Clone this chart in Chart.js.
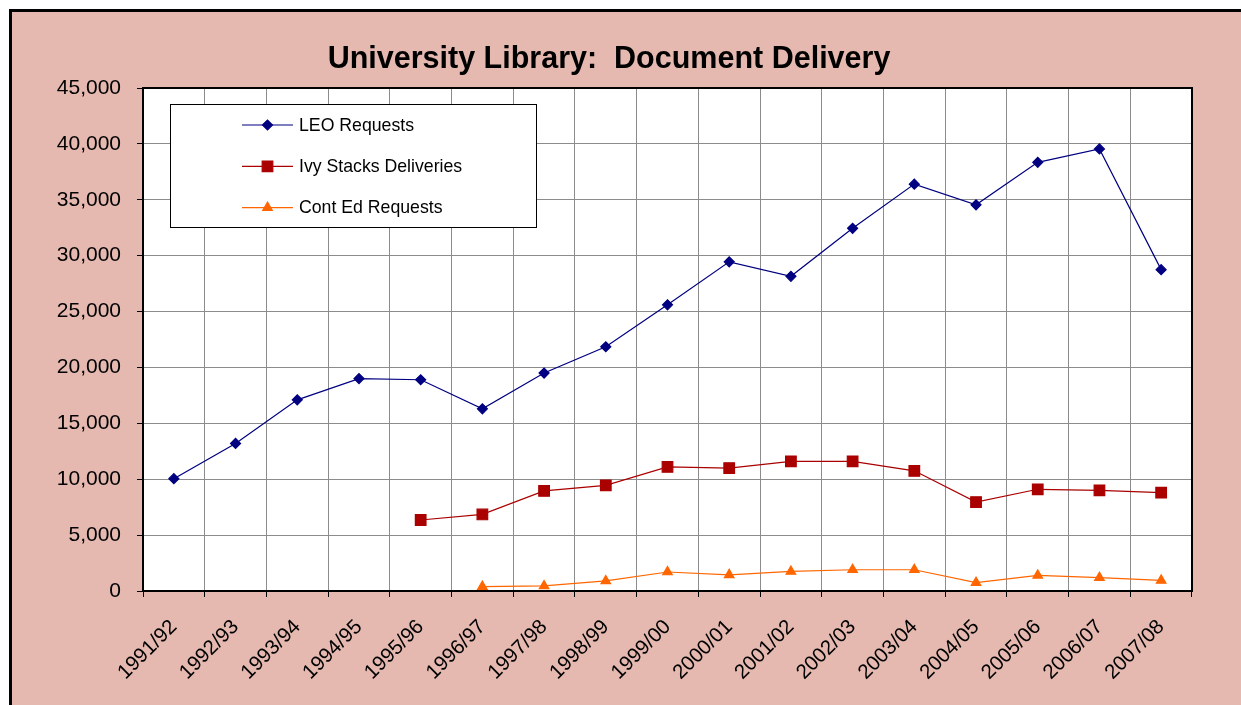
<!DOCTYPE html>
<html>
<head>
<meta charset="utf-8">
<title>University Library: Document Delivery</title>
<script src="https://cdn.jsdelivr.net/npm/chart.js@4.4.1/dist/chart.umd.min.js"></script>
<style>
    html, body { margin: 0; padding: 0; background: #fff; }
    canvas { display: block; }
</style>
</head>
<body>
<canvas id="deliveryChart" width="1241" height="705"></canvas>
<script>

// =====================
// DATA
// =====================

const YEARS = [
    "1991/92", "1992/93", "1993/94", "1994/95", "1995/96", "1996/97",
    "1997/98", "1998/99", "1999/00", "2000/01", "2001/02", "2002/03",
    "2003/04", "2004/05", "2005/06", "2006/07", "2007/08"
];

const LEO_REQUESTS = [
    10050, 13200, 17100, 19000, 18900, 16300, 19500, 21850, 25600,
    29450, 28150, 32450, 36400, 34550, 38350, 39550, 28750
];

const IVY_DELIVERIES = [
    null, null, null, null, 6350, 6850, 8950, 9450, 11100,
    11000, 11600, 11600, 10750, 7950, 9100, 9000, 8800
];

const CONT_ED_REQUESTS = [
    null, null, null, null, null, 400, 450, 900, 1700,
    1450, 1750, 1900, 1900, 750, 1400, 1200, 950
];

const Y_TICKS = [0, 5000, 10000, 15000, 20000, 25000, 30000, 35000, 40000, 45000];

const FONT = "'Liberation Sans', Arial, sans-serif";
const PINK = '#E5B9B0';


// =====================
// PLUGINS
// =====================

// pink chart background, outer frame, white plot area
const backgroundPlugin = {
    id: 'background',
    beforeDraw(chart) {
        const ctx = chart.ctx;
        const a = chart.chartArea;
        ctx.save();
        ctx.fillStyle = '#fff';
        ctx.fillRect(0, 0, chart.width, chart.height);
        ctx.fillStyle = PINK;
        ctx.fillRect(9, 9, chart.width, chart.height);
        ctx.fillStyle = '#000';
        ctx.fillRect(9, 9, 3, chart.height);
        ctx.fillRect(9, 9, chart.width, 3);
        ctx.fillStyle = '#fff';
        ctx.fillRect(a.left, a.top, a.right - a.left, a.bottom - a.top);
        ctx.restore();
    },
    beforeDatasetsDraw(chart) {
        const ctx = chart.ctx;
        const a = chart.chartArea;
        ctx.save();
        ctx.strokeStyle = '#000';
        ctx.lineWidth = 2;
        ctx.strokeRect(a.left, a.top, a.right - a.left, a.bottom - a.top);
        ctx.restore();
    }
};

// boxed legend sitting inside the plot area
const legendBoxPlugin = {
    id: 'legendBox',
    afterDraw(chart) {
        const ctx = chart.ctx;
        const a = chart.chartArea;
        const x = a.left + 27;
        const y = a.top + 16;

        ctx.save();
        ctx.fillStyle = '#fff';
        ctx.fillRect(x, y, 366, 124);
        ctx.strokeStyle = '#000';
        ctx.lineWidth = 1;
        ctx.strokeRect(x + 0.5, y + 0.5, 366, 123);

        chart.data.datasets.forEach(function (ds, i) {
            const rowY = y + 21 + i * 41.3;

            ctx.strokeStyle = ds.borderColor;
            ctx.lineWidth = ds.borderWidth;
            ctx.beginPath();
            ctx.moveTo(x + 72, rowY);
            ctx.lineTo(x + 123, rowY);
            ctx.stroke();

            ctx.fillStyle = ds.pointBackgroundColor;
            ctx.strokeStyle = ds.pointBorderColor;
            Chart.helpers.drawPoint(ctx, {
                pointStyle: ds.pointStyle,
                radius: ds.pointRadius,
                rotation: 0,
                borderWidth: 1
            }, x + 97.5, rowY);

            ctx.fillStyle = '#000';
            ctx.font = '17.7px ' + FONT;
            ctx.textBaseline = 'middle';
            ctx.textAlign = 'left';
            ctx.fillText(ds.label, x + 129, rowY + 1);
        });
        ctx.restore();
    }
};


// =====================
// CHART
// =====================

function loadDeliveryChart() {

    new Chart(document.getElementById('deliveryChart'), {
        type: 'line',
        data: {
            labels: YEARS,
            datasets: [{
                label: 'LEO Requests',
                data: LEO_REQUESTS,
                borderColor: '#000080',
                borderWidth: 1.2,
                pointStyle: 'rectRot',
                pointRadius: 5,
                pointBackgroundColor: '#000080',
                pointBorderColor: '#000080',
                tension: 0
            }, {
                label: 'Ivy Stacks Deliveries',
                data: IVY_DELIVERIES,
                borderColor: '#AA0000',
                borderWidth: 1.2,
                pointStyle: 'rect',
                pointRadius: 7.5,
                pointBackgroundColor: '#AA0000',
                pointBorderColor: '#AA0000',
                tension: 0
            }, {
                label: 'Cont Ed Requests',
                data: CONT_ED_REQUESTS,
                borderColor: '#FF6600',
                borderWidth: 1.2,
                pointStyle: 'triangle',
                pointRadius: 5.5,
                pointBackgroundColor: '#FF6600',
                pointBorderColor: '#FF6600',
                tension: 0
            }]
        },
        options: {
            responsive: false,
            maintainAspectRatio: false,
            animation: false,
            layout: {
                padding: { left: 26, right: 49, top: 0, bottom: 0 }
            },
            plugins: {
                legend: { display: false },
                tooltip: { enabled: false },
                title: {
                    display: true,
                    text: 'University Library:  Document Delivery',
                    color: '#000',
                    font: { family: FONT, size: 30.5, weight: 'bold', lineHeight: 1.2 },
                    padding: { top: 41, bottom: 10.4 }
                }
            },
            scales: {
                x: {
                    offset: true,
                    grid: {
                        offset: true,
                        color: '#8c8c8c',
                        lineWidth: 1,
                        tickColor: '#000',
                        tickLength: 6
                    },
                    border: { display: true, color: '#000', width: 2 },
                    ticks: {
                        color: '#000',
                        font: { family: FONT, size: 20.5 },
                        minRotation: 45,
                        maxRotation: 45,
                        padding: 18,
                        autoSkip: false
                    },
                    afterFit: function (scale) { scale.height = 114; }
                },
                y: {
                    min: 0,
                    max: 45000,
                    grid: {
                        color: '#8c8c8c',
                        lineWidth: 1,
                        tickColor: '#000',
                        tickLength: 6
                    },
                    border: { display: true, color: '#000', width: 2 },
                    afterBuildTicks: function (axis) {
                        axis.ticks = Y_TICKS.map(v => ({ value: v }));
                    },
                    ticks: {
                        color: '#000',
                        font: { family: FONT, size: 21 },
                        padding: 16,
                        callback: function (value) {
                            return value.toLocaleString('en-US');
                        }
                    },
                    afterFit: function (scale) { scale.width = 117; }
                }
            }
        },
        plugins: [backgroundPlugin, legendBoxPlugin]
    });

}

loadDeliveryChart();

</script>
</body>
</html>
